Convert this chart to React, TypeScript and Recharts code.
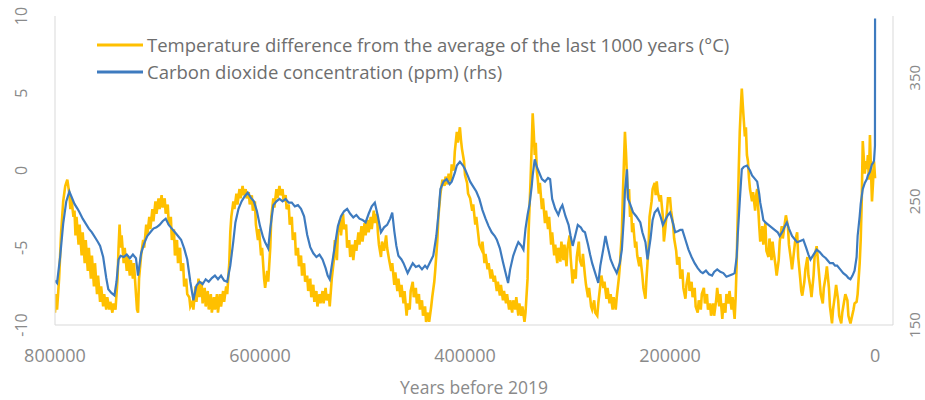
import React from 'react';
import { LineChart, Line, XAxis, YAxis, Legend } from 'recharts';

const FONT = '"Open Sans", "Noto Sans", sans-serif';

const xTicks = [800000, 600000, 400000, 200000, 0];
const tempTicks = [-10, -5, 0, 5, 10];
const co2Ticks = [150, 250, 350];

const tempName = 'Temperature difference from the average of the last 1000 years (°C)';
const co2Name = 'Carbon dioxide concentration (ppm) (rhs)';
const legendOrder = [tempName, co2Name];

// [thousand years before 2019, °C]
const tempSeries: [number, number][] = [
  [800, -9.2], [799, -8.0], [798, -9.0], [796, -7.0], [794, -4.0], [792, -2.0], [790, -1.0], [788, -0.6], [786, -1.5], [785, -2.5],
  [784, -1.8], [782, -3.0], [781, -2.6], [780, -4.2], [779, -3.0], [777, -4.8], [776, -3.5], [774, -5.5], [773, -4.0], [771, -6.0],
  [770, -4.5], [768, -6.5], [767, -5.0], [765, -7.0], [764, -5.5], [762, -7.5], [761, -6.0], [759, -8.0], [758, -6.8], [756, -8.5],
  [755, -7.5], [753, -8.8], [752, -8.0], [750, -9.0], [749, -8.2], [747, -9.0], [746, -8.5], [744, -9.2], [743, -8.6], [741, -9.0],
  [739, -7.0], [738, -5.0], [737, -3.5], [736, -5.0], [735, -4.2], [733, -6.0], [732, -5.0], [730, -6.5], [729, -5.5], [727, -6.8],
  [726, -5.8], [724, -7.0], [723, -6.0], [721, -8.0], [720, -9.0], [719, -9.2], [718, -7.0], [716, -5.5], [714, -4.5], [713, -5.0],
  [711, -3.5], [710, -4.2], [708, -3.0], [707, -3.8], [705, -2.5], [704, -3.3], [702, -2.0], [701, -2.8], [699, -1.8], [698, -2.5],
  [696, -1.6], [695, -2.4], [693, -1.8], [692, -2.8], [690, -2.2], [689, -3.5], [687, -3.0], [686, -4.5], [684, -3.8], [683, -5.5],
  [681, -4.5], [680, -6.0], [678, -5.0], [677, -6.5], [675, -6.0], [674, -7.5], [672, -7.0], [671, -8.0], [669, -8.2], [668, -8.8],
  [666, -8.5], [665, -9.0], [663, -7.5], [662, -8.5], [660, -7.0], [659, -8.2], [657, -7.2], [656, -8.6], [654, -7.6], [653, -8.8],
  [651, -7.8], [650, -9.0], [648, -8.0], [647, -9.2], [645, -8.2], [644, -9.0], [642, -8.0], [641, -9.2], [639, -8.0], [638, -8.8],
  [636, -7.8], [635, -8.5], [633, -7.5], [632, -8.0], [630, -6.0], [629, -4.0], [628, -3.0], [626, -2.0], [625, -2.5], [623, -1.5],
  [622, -2.2], [620, -1.2], [619, -1.8], [617, -1.0], [616, -1.6], [614, -1.2], [613, -1.8], [611, -1.4], [610, -2.2], [608, -1.6],
  [607, -2.6], [605, -2.0], [604, -3.5], [602, -4.5], [601, -3.8], [599, -5.5], [598, -5.0], [596, -7.0], [595, -7.6], [593, -6.5],
  [592, -7.2], [590, -5.0], [589, -3.0], [587, -1.8], [586, -2.4], [584, -1.2], [583, -1.8], [581, -1.0], [580, -1.6], [578, -1.2],
  [577, -2.0], [575, -1.6], [574, -2.5], [572, -2.2], [571, -3.5], [569, -3.0], [568, -4.5], [566, -4.0], [565, -5.5], [563, -5.0],
  [562, -6.2], [560, -5.5], [559, -6.8], [557, -6.0], [556, -7.2], [554, -6.8], [553, -7.8], [551, -7.0], [550, -8.2], [548, -7.4],
  [547, -8.5], [545, -7.8], [544, -8.8], [542, -8.0], [541, -8.6], [539, -7.8], [538, -8.6], [536, -7.6], [535, -8.4], [533, -8.0],
  [532, -8.8], [530, -7.0], [528, -5.8], [527, -4.5], [525, -5.8], [524, -4.0], [522, -3.2], [521, -4.2], [519, -2.8], [518, -3.8],
  [516, -3.5], [515, -5.0], [513, -4.5], [512, -5.6], [510, -4.8], [509, -5.8], [507, -4.5], [506, -5.2], [504, -4.0], [503, -4.8],
  [501, -3.6], [500, -4.6], [498, -3.4], [497, -4.2], [495, -3.2], [494, -4.0], [492, -3.0], [491, -3.8], [489, -2.6], [488, -3.4],
  [486, -2.8], [485, -4.0], [484, -4.8], [482, -5.6], [481, -4.6], [479, -5.2], [477, -4.2], [476, -5.0], [474, -5.8], [472, -6.5],
  [471, -6.0], [469, -7.4], [468, -6.6], [466, -7.8], [465, -7.0], [463, -8.2], [462, -7.4], [460, -8.6], [459, -7.8], [457, -9.4],
  [456, -8.6], [454, -9.0], [453, -7.8], [451, -7.2], [450, -8.2], [448, -7.6], [447, -8.6], [445, -8.0], [444, -9.0], [442, -8.4],
  [441, -9.4], [439, -8.8], [438, -9.8], [436, -9.2], [435, -9.8], [433, -8.8], [432, -8.2], [430, -7.2], [429, -6.4], [427, -4.5],
  [426, -3.0], [424, -1.5], [422, -0.6], [420, -1.0], [419, -0.4], [417, -0.9], [416, -0.2], [414, -0.7], [413, 0.4], [411, 0.0],
  [410, 1.2], [408, 2.5], [407, 1.8], [405, 2.8], [404, 2.0], [403, 1.4], [401, 0.6], [400, -0.3], [398, -0.8], [397, -1.5],
  [395, -1.8], [393, -2.6], [392, -2.2], [390, -3.5], [389, -3.0], [387, -4.2], [386, -4.8], [384, -5.1], [383, -4.6], [381, -6.0],
  [380, -5.4], [378, -6.4], [377, -6.0], [375, -7.0], [374, -6.4], [372, -7.2], [371, -6.8], [369, -7.8], [368, -7.2], [366, -8.1],
  [365, -7.4], [363, -8.4], [362, -7.8], [360, -8.6], [359, -8.0], [357, -9.0], [356, -8.4], [354, -9.2], [353, -8.4], [351, -9.0],
  [350, -8.2], [348, -9.4], [347, -8.6], [345, -9.4], [344, -8.8], [342, -9.8], [341, -9.2], [339, -7.0], [338, -4.0], [336, -0.5],
  [335, 1.5], [334, 3.7], [333, 2.5], [332, 1.0], [331, 1.8], [330, 0.0], [329, -0.6], [328, -1.5], [327, -0.8], [325, -2.5],
  [324, -1.8], [322, -3.4], [321, -2.6], [319, -3.8], [318, -3.0], [316, -4.8], [315, -4.0], [313, -5.5], [312, -4.8], [310, -6.0],
  [309, -5.0], [307, -5.9], [306, -4.6], [304, -5.8], [303, -4.8], [301, -6.2], [300, -5.0], [298, -4.2], [297, -5.6], [295, -7.3],
  [294, -6.4], [292, -7.0], [291, -5.6], [289, -4.6], [288, -5.8], [286, -6.2], [285, -5.4], [283, -6.8], [282, -7.4], [280, -8.2],
  [279, -7.6], [277, -8.8], [276, -9.0], [274, -8.4], [273, -9.2], [271, -9.4], [270, -8.6], [268, -7.4], [267, -6.8], [265, -7.6],
  [264, -7.2], [262, -8.3], [261, -7.6], [259, -8.6], [258, -8.0], [256, -9.0], [255, -8.2], [253, -9.0], [252, -8.2], [250, -7.0],
  [249, -6.2], [247, -4.0], [246, -1.5], [245, 0.5], [244, 2.5], [243, 1.2], [242, -0.4], [241, -1.8], [240, -1.2], [239, -3.0],
  [238, -2.4], [237, -4.0], [236, -3.4], [234, -5.0], [233, -4.6], [232, -5.5], [230, -6.2], [229, -5.6], [227, -6.8], [226, -7.6],
  [224, -8.3], [223, -7.0], [221, -5.0], [220, -3.0], [218, -2.0], [217, -1.2], [215, -0.8], [214, -1.6], [213, -0.7], [212, -1.4],
  [210, -2.0], [209, -1.6], [207, -3.0], [206, -4.6], [205, -4.0], [203, -2.6], [202, -1.8], [200, -1.8], [199, -2.6], [197, -3.5],
  [196, -4.4], [194, -5.2], [193, -6.1], [191, -5.6], [190, -7.0], [188, -6.4], [187, -7.6], [185, -8.3], [184, -7.4], [182, -6.6],
  [181, -7.8], [179, -7.2], [178, -8.2], [176, -7.6], [175, -8.8], [173, -9.2], [172, -8.4], [170, -9.0], [169, -8.0], [167, -7.6],
  [166, -8.6], [164, -8.0], [163, -9.0], [161, -8.6], [160, -9.4], [158, -8.6], [157, -9.4], [155, -8.4], [154, -7.6], [152, -8.8],
  [151, -8.0], [149, -9.6], [148, -8.6], [146, -9.2], [145, -8.0], [143, -8.6], [142, -7.8], [140, -9.0], [139, -8.2], [137, -9.6],
  [136, -8.2], [135, -6.0], [134, -3.0], [133, 0.0], [132, 2.5], [131, 4.0], [130, 5.3], [129, 4.2], [128, 3.2], [127, 2.2],
  [126, 2.8], [125, 1.0], [124, 0.6], [123, -0.5], [122, -1.2], [121, -1.6], [120, -2.0], [119, -1.4], [117, -2.6], [116, -1.6],
  [115, -1.2], [114, -2.4], [113, -3.6], [112, -4.6], [110, -3.6], [109, -4.8], [107, -3.4], [106, -5.2], [104, -5.6], [103, -4.4],
  [101, -5.8], [100, -4.6], [99, -5.2], [97, -6.2], [96, -6.8], [94, -5.8], [93, -4.6], [91, -3.6], [90, -4.4], [88, -3.4],
  [87, -2.9], [85, -3.6], [84, -4.8], [82, -5.8], [81, -6.4], [79, -5.2], [78, -4.6], [76, -4.0], [75, -5.6], [73, -7.0],
  [72, -7.8], [71, -8.1], [69, -7.2], [68, -6.4], [66, -5.6], [65, -6.8], [63, -7.6], [62, -8.2], [60, -6.8], [59, -5.6],
  [57, -4.9], [56, -5.6], [54, -7.2], [53, -8.0], [51, -8.6], [50, -7.6], [48, -6.8], [47, -6.2], [45, -7.6], [44, -8.8],
  [42, -9.9], [41, -9.0], [39, -8.0], [38, -7.4], [36, -8.4], [35, -9.4], [33, -9.9], [32, -9.2], [30, -8.4], [29, -8.0],
  [27, -8.4], [26, -9.4], [24, -9.9], [23, -9.6], [21, -9.0], [20, -8.6], [18, -8.5], [17, -8.0], [15, -6.0], [14, -4.5],
  [13, -2.0], [12, 1.9], [11, 0.8], [10, -0.2], [9, 0.6], [8, 0.1], [7, 1.0], [6, -0.6], [5, 2.3], [4, 0.0],
  [3, -2.0], [2, -0.8], [1, 0.6], [0, -0.5],
];

// [thousand years before 2019, ppm]
const co2Series: [number, number][] = [
  [800, 186], [798, 184], [795, 205], [792, 232], [789, 250], [786, 258], [784, 254], [781, 248], [778, 244], [776, 241],
  [773, 236], [770, 232], [767, 228], [764, 225], [761, 221], [758, 217], [756, 214], [753, 205], [750, 188], [748, 179],
  [745, 176], [742, 174], [740, 185], [738, 203], [736, 206], [733, 205], [730, 207], [727, 204], [724, 207], [721, 204],
  [719, 190], [716, 208], [713, 216], [710, 222], [707, 225], [704, 228], [701, 229], [698, 231], [695, 234], [692, 236],
  [689, 231], [686, 228], [683, 225], [680, 222], [677, 219], [674, 212], [671, 203], [668, 185], [665, 170], [662, 182],
  [659, 185], [656, 183], [653, 187], [650, 185], [647, 188], [644, 190], [641, 187], [638, 190], [635, 186], [632, 185],
  [629, 198], [626, 218], [624, 233], [621, 244], [618, 250], [615, 254], [612, 257], [609, 253], [606, 250], [603, 242],
  [600, 230], [597, 221], [595, 217], [592, 212], [590, 228], [587, 247], [584, 250], [581, 252], [578, 250], [575, 252],
  [572, 249], [569, 249], [566, 246], [563, 247], [560, 244], [557, 238], [554, 223], [551, 213], [548, 208], [545, 205],
  [542, 207], [539, 203], [536, 196], [534, 190], [532, 187], [530, 198], [527, 214], [524, 230], [521, 238], [518, 242],
  [515, 244], [512, 240], [509, 237], [506, 239], [503, 236], [500, 235], [497, 233], [494, 240], [491, 246], [488, 249],
  [485, 238], [482, 225], [479, 229], [476, 231], [473, 236], [471, 241], [469, 226], [467, 214], [465, 206], [462, 203],
  [460, 200], [458, 196], [456, 192], [453, 197], [451, 200], [448, 197], [445, 198], [442, 195], [439, 198], [437, 196],
  [434, 201], [431, 206], [428, 222], [426, 239], [424, 260], [421, 266], [418, 268], [415, 264], [413, 266], [410, 273],
  [408, 279], [405, 282], [402, 279], [400, 276], [397, 270], [395, 266], [392, 262], [389, 258], [386, 252], [383, 243],
  [380, 236], [377, 230], [374, 225], [371, 222], [369, 219], [366, 212], [363, 201], [361, 194], [358, 184], [356, 195],
  [353, 206], [350, 213], [348, 217], [345, 214], [343, 211], [341, 228], [339, 239], [337, 248], [335, 262], [334, 271],
  [332, 284], [330, 278], [327, 272], [325, 268], [322, 266], [319, 269], [317, 268], [315, 252], [312, 244], [309, 239],
  [307, 244], [305, 247], [302, 238], [299, 231], [297, 222], [295, 214], [292, 224], [290, 231], [287, 229], [285, 226],
  [283, 225], [280, 215], [278, 207], [276, 200], [273, 192], [270, 184], [268, 198], [265, 212], [263, 222], [261, 214],
  [258, 203], [255, 197], [252, 192], [249, 200], [247, 211], [245, 238], [244, 258], [242, 276], [241, 252], [239, 248],
  [236, 241], [233, 238], [229, 233], [227, 225], [224, 217], [222, 203], [219, 220], [217, 235], [215, 241], [212, 244],
  [209, 237], [207, 231], [204, 236], [202, 239], [200, 241], [197, 232], [195, 225], [192, 226], [190, 227], [188, 227],
  [185, 219], [182, 211], [179, 205], [176, 200], [173, 196], [170, 193], [168, 192], [165, 194], [162, 191], [159, 190],
  [157, 193], [154, 195], [151, 193], [148, 192], [145, 189], [142, 190], [139, 191], [137, 192], [135, 205], [134, 222],
  [132, 250], [130, 276], [128, 278], [125, 279], [122, 275], [120, 271], [117, 268], [115, 266], [113, 256], [112, 249],
  [110, 240], [109, 235], [107, 233], [104, 231], [101, 229], [98, 227], [95, 225], [93, 222], [90, 226], [88, 230],
  [86, 233], [84, 228], [81, 222], [79, 220], [76, 217], [73, 218], [70, 219], [67, 212], [65, 207], [63, 203],
  [60, 207], [57, 211], [54, 209], [51, 206], [48, 204], [46, 202], [44, 200], [41, 200], [39, 198], [37, 198],
  [34, 195], [31, 192], [28, 190], [26, 188], [24, 187], [22, 190], [20, 194], [18, 205], [17, 222], [15, 238],
  [14, 248], [12, 260], [10, 265], [8, 268], [7, 271], [5, 274], [3, 280], [2, 281], [1, 283], [0.1, 295],
  [0, 398],
];

const tempData = tempSeries.map(([k, v]) => ({ age: k * 1000, temp: v }));
const co2Data = co2Series.map(([k, v]) => ({ age: k * 1000, co2: v }));

const TICK_COLOR = '#8a8a8a';
const AXIS_COLOR = '#d9d9d9';

const XTick = (props: any) => {
  const { x, payload } = props;
  return (
    <text x={x} y={355} textAnchor="middle" dominantBaseline="central" fill={TICK_COLOR} fontSize={18} fontFamily={FONT}>
      {payload.value}
    </text>
  );
};

const LeftTick = (props: any) => {
  const { y, payload } = props;
  const cx = 21;
  return (
    <text x={cx} y={y} transform={`rotate(-90 ${cx} ${y})`} textAnchor="middle" dominantBaseline="central" fill={TICK_COLOR} fontSize={16} fontFamily={FONT}>
      {payload.value}
    </text>
  );
};

const RightTick = (props: any) => {
  const { y, payload } = props;
  const cx = 914;
  return (
    <text x={cx} y={y} transform={`rotate(-90 ${cx} ${y})`} textAnchor="middle" dominantBaseline="central" fill={TICK_COLOR} fontSize={15} fontFamily={FONT}>
      {payload.value}
    </text>
  );
};

const renderLegend = (props: any) => {
  const entries = [...(props.payload || [])].sort(
    (a: any, b: any) => legendOrder.indexOf(a.value) - legendOrder.indexOf(b.value)
  );
  return (
    <div style={{ fontFamily: FONT, fontSize: 18.5, color: '#6e6e6e', lineHeight: '27px' }}>
      {entries.map((entry: any) => (
        <div key={entry.value} style={{ display: 'flex', alignItems: 'center', height: 27, whiteSpace: 'nowrap' }}>
          <svg width={50} height={8} style={{ flex: 'none' }}>
            <line x1={0} y1={4} x2={46} y2={4} stroke={entry.color} strokeWidth={3} />
          </svg>
          <span>{entry.value}</span>
        </div>
      ))}
    </div>
  );
};

export default function App() {
  return (
    <div style={{ position: 'absolute', left: 0, top: 0, width: 925, height: 400, background: '#fff' }}>
      <LineChart width={925} height={400} margin={{ top: 16, right: 0, bottom: 0, left: 0 }}>
        <XAxis
          dataKey="age"
          type="number"
          domain={[-17500, 800000]}
          reversed
          allowDataOverflow
          ticks={xTicks}
          interval={0}
          tick={XTick}
          tickLine={false}
          axisLine={{ stroke: AXIS_COLOR }}
          height={75}
          label={{ value: 'Years before 2019', position: 'insideBottom', offset: 6, fill: TICK_COLOR, fontSize: 17.5, fontFamily: FONT }}
        />
        <YAxis
          yAxisId="t"
          type="number"
          domain={[-10, 10]}
          ticks={tempTicks}
          interval={0}
          width={55}
          tick={LeftTick}
          tickLine={false}
          axisLine={{ stroke: AXIS_COLOR }}
          allowDataOverflow
        />
        <YAxis
          yAxisId="c"
          orientation="right"
          type="number"
          domain={[150, 400]}
          ticks={co2Ticks}
          interval={0}
          width={32}
          tick={RightTick}
          tickLine={false}
          axisLine={{ stroke: AXIS_COLOR }}
          allowDataOverflow
        />
        <Legend
          layout="vertical"
          align="center"
          verticalAlign="middle"
          wrapperStyle={{ left: 97, top: 31, width: 720, height: 56 }}
          content={renderLegend}
        />
        <Line
          yAxisId="t"
          data={tempData}
          dataKey="temp"
          name={tempName}
          stroke="#FFC000"
          strokeWidth={2.6}
          dot={false}
          activeDot={false}
          isAnimationActive={false}
        />
        <Line
          yAxisId="c"
          data={co2Data}
          dataKey="co2"
          name={co2Name}
          stroke="#3E7BBF"
          strokeWidth={2.2}
          dot={false}
          activeDot={false}
          isAnimationActive={false}
        />
      </LineChart>
    </div>
  );
}
